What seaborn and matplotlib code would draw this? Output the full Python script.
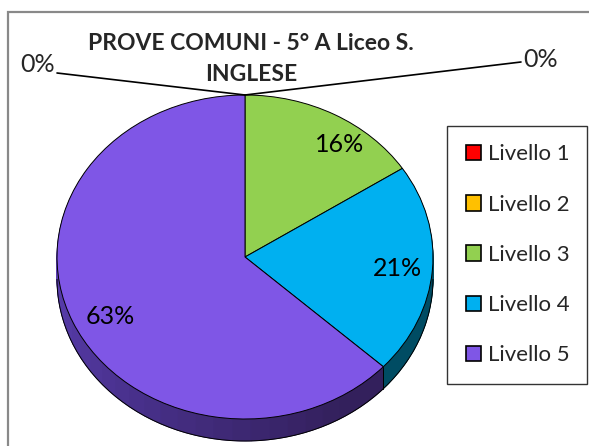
import numpy as np
import matplotlib
matplotlib.use("Agg")
import matplotlib.pyplot as plt
import seaborn as sns
from matplotlib.patches import Rectangle, Arc
from matplotlib.colors import to_rgb

# Results per level (number of students)
levels = ["Livello 1", "Livello 2", "Livello 3", "Livello 4", "Livello 5"]
students = [0, 0, 3, 4, 12]
top_colors = ["#FF0000", "#FFC000", "#92D050", "#00B0F0", "#7F56E6"]
side_colors = ["#7A0000", "#7A5C00", "#46662A", "#004C63", "#33205C"]
side_light = "#5A3EB2"
title = "PROVE COMUNI - 5° A Liceo S.\nINGLESE"

sns.set_style("white")
plt.rcParams["font.family"] = ["Lato", "DejaVu Sans"]

W, H = 589, 446
fig = plt.figure(figsize=(W / 100, H / 100), dpi=100)
ax = fig.add_axes([0, 0, 1, 1])

# pie geometry in pixels: centre, horizontal / vertical radius, thickness
cx, cy, rx, ry, depth_px = 245, 257, 188, 162, 22
depth = depth_px / ry

values = np.array(students, dtype=float)
fracs = values / values.sum()

# ---- side of the 3D pie: stacked layers, darkest colour at the front ----
n_split = 40
side_vals, side_cols = [], []
start = 0.0
for v, f, c in zip(values, fracs, side_colors):
    if v == 0:
        side_vals.append(v)
        side_cols.append(c)
        continue
    parts = n_split if c == side_colors[-1] else 1
    for k in range(parts):
        mid = 360 * (start + f * (k + 0.5) / parts)
        if parts > 1:
            t = np.clip((mid - 150) / 120, 0, 1)
            col = tuple((1 - t) * np.array(to_rgb(c)) + t * np.array(to_rgb(side_light)))
        else:
            col = c
        side_vals.append(v / parts)
        side_cols.append(col)
    start += f

n_layers = depth_px
for i in range(n_layers, 0, -1):
    off = depth * i / n_layers
    wedges, _ = ax.pie(side_vals, colors=side_cols, startangle=90, counterclock=False,
                       radius=1, center=(0, -off), wedgeprops=dict(linewidth=0.6))
    for w, col in zip(wedges, side_cols):
        w.set_edgecolor(col)

# outline of the bottom rim
ax.add_patch(Arc((0, -depth), 2, 2, theta1=180, theta2=360, color="black", lw=0.7, zorder=3))

# vertical edge where Livello 4 and Livello 5 meet on the side
cum = np.cumsum(fracs)
ang = np.deg2rad(360 * cum[3])
ex, ey = np.sin(ang), np.cos(ang)
ax.plot([ex, ex], [ey, ey - depth], color="black", lw=0.7, zorder=3)

# ---- top face ----
wedges, texts, autotexts = ax.pie(
    values, colors=top_colors, startangle=90, counterclock=False, radius=1,
    center=(0, 0), autopct="%.0f%%", pctdistance=0.8,
    wedgeprops=dict(linewidth=0.7, edgecolor="black"),
    textprops=dict(fontsize=18, color="black"))
for w in wedges:
    w.set_zorder(4)
for t, v in zip(autotexts, values):
    t.set_zorder(6)
    if v == 0:
        t.set_text("")

ax.set_aspect("auto")
ax.set_xlim((0 - cx) / rx, (W - cx) / rx)
ax.set_ylim((cy - H) / ry, cy / ry)
ax.axis("off")

# pixel helper for label placement
def px(x, y):
    return ((x - cx) / rx, (cy - y) / ry)

autotexts[2].set_position(px(340, 145))
autotexts[3].set_position(px(397, 268))
autotexts[4].set_position(px(110, 316))

# zero-value labels with leader lines to the top of the pie
top = (0, 1)
for (lx, ly), (tx, ty), ha in [((57, 73), (55, 65), "right"), ((521, 62), (523, 60), "left")]:
    p = px(lx, ly)
    ax.plot([top[0], p[0]], [top[1], p[1]], color="black", lw=1.2, zorder=7)
    ax.text(*px(tx, ty), "0%", ha=ha, va="center", fontsize=18, zorder=7)

fig.text(251 / W, 1 - 59 / H, title, ha="center", va="center", fontsize=16.5,
         fontweight="bold", linespacing=1.55, zorder=5)

handles = [Rectangle((0, 0), 1, 1, facecolor=c, edgecolor="black", lw=1.2) for c in top_colors]
leg = ax.legend(handles, levels, loc="upper left",
                bbox_to_anchor=(447 / W, 1 - 130 / H, 140 / W, 0.01),
                bbox_transform=fig.transFigure, mode="expand",
                frameon=True, fancybox=False, fontsize=16, handlelength=0.7,
                handleheight=0.7, handletextpad=0.3, labelspacing=1.36,
                borderpad=0.85, borderaxespad=0)
leg.get_frame().set_edgecolor("black")
leg.get_frame().set_linewidth(1.0)

fig.add_artist(Rectangle((8 / W, -0.1), 1.2, (H - 12) / H + 0.1, transform=fig.transFigure,
                         fill=False, edgecolor="#898989", lw=1.6))

fig.savefig("out.png", dpi=100)
